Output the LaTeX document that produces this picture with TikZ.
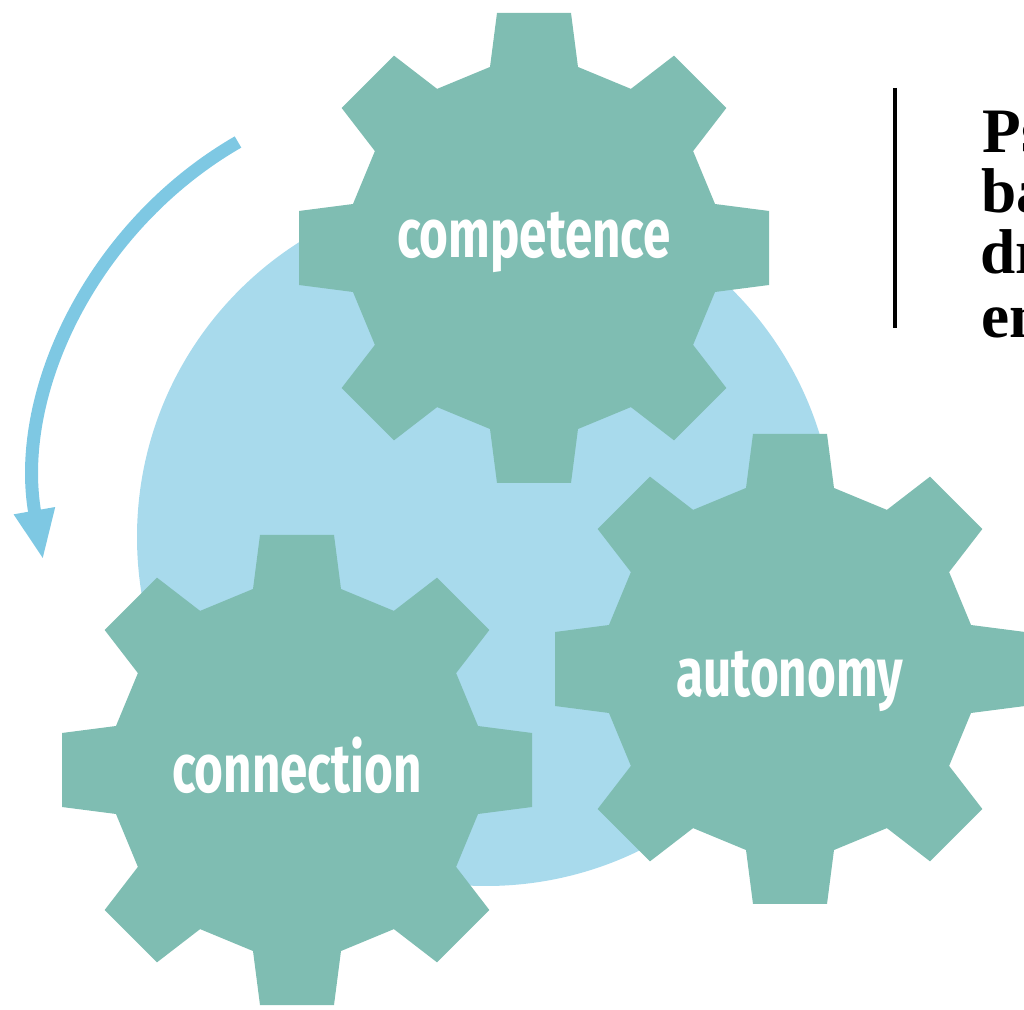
\documentclass[tikz,border=0pt]{standalone}
\usepackage{fontspec}
\usetikzlibrary{arrows.meta}
\newfontfamily\gearfont[FakeStretch=0.72]{Fira Sans}
\newfontfamily\headfont{Liberation Serif}
\definecolor{gearteal}{HTML}{7FBDB2}
\definecolor{bgblue}{HTML}{A8DAEC}
\definecolor{arrowblue}{HTML}{7EC8E3}
\begin{document}
\begin{tikzpicture}[x=0.01cm,y=-0.01cm,
  gearfill/.style={fill=gearteal},
  gearlabel/.style={text=white,font=\gearfont\bfseries\fontsize{19.5pt}{20pt}\selectfont,anchor=base,inner sep=0pt},
  headtext/.style={font=\headfont\bfseries\fontsize{18pt}{19pt}\selectfont,anchor=base west,inner sep=0pt},
  arrowline/.style={draw=arrowblue,line width=0.13cm,-{Triangle[width=0.38cm,length=0.5cm]}},
  barline/.style={draw=black,line width=0.04cm},
  gear/.pic={\fill[gearfill] (-13.66:186.3) \foreach \k in {0,...,7}{ -- ({\k*45-13.66}:186.3) -- ({\k*45-8.95}:237.9) -- ({\k*45+8.95}:237.9) -- ({\k*45+13.66}:186.3)} -- cycle;}
]
\useasboundingbox (0,0) rectangle (1024,1010);
\clip (0,0) rectangle (1024,1010);
\coordinate (circc) at (486,537);
\fill[bgblue] (circc) circle[radius=349];
\pic (gtop) at (534,248) {gear};
\pic (gconn) at (297,770) {gear};
\pic (gauto) at (790,669) {gear};
\node[gearlabel] (competence) at (534,258) {competence};
\node[gearlabel] (connection) at (297,793) {connection};
\node[gearlabel] (autonomy) at (790,697) {autonomy};
\coordinate (arrowstart) at (238,142);
\draw[arrowline] (arrowstart) arc[start angle=240,end angle=170,radius=402];
\coordinate (bartop) at (895,88);
\coordinate (barbot) at (895,328);
\draw[barline] (bartop) -- (barbot);
\node[headtext] (l1) at (982,153) {Ps};
\node[headtext] (l2) at (981,213) {bas};
\node[headtext] (l3) at (980,274) {dri};
\node[headtext] (l4) at (981,338) {eng};
\end{tikzpicture}
\end{document}
